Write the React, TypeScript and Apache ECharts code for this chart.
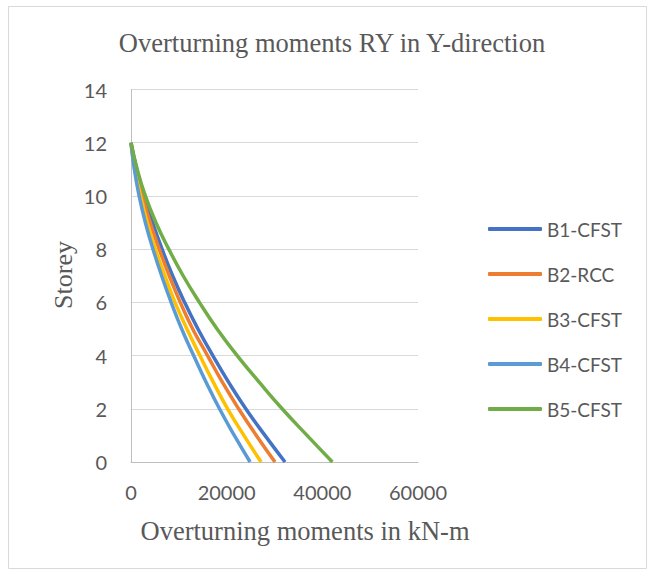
import React, { useEffect, useRef } from "react";
import * as echarts from "echarts";

const storeys = [0, 1, 2, 3, 4, 5, 6, 7, 8, 9, 10, 11, 12];
const seriesNames = ["B1-CFST", "B2-RCC", "B3-CFST", "B4-CFST", "B5-CFST"];
const b1 = [32200, 28000, 24000, 20400, 17100, 14000, 11200, 8700, 6500, 4500, 2700, 1200, 0];
const b2 = [30100, 26200, 22500, 19100, 16000, 12900, 10300, 8000, 5900, 4000, 2400, 1000, 0];
const b3 = [27200, 23600, 20200, 17200, 14400, 11700, 9200, 7100, 5100, 3400, 2000, 800, 0];
const b4 = [24900, 21600, 18500, 15700, 13100, 10600, 8400, 6400, 4600, 3000, 1700, 700, 0];
const b5 = [42100, 36800, 31600, 26800, 22200, 18000, 14300, 10900, 7900, 5200, 3000, 1300, 0];
const xTicks = [0, 20000, 40000, 60000];
const yTicks = [0, 2, 4, 6, 8, 10, 12, 14];
const colors = ["#4472C4", "#ED7D31", "#FFC000", "#5B9BD5", "#70AD47"];

const allValues = [b1, b2, b3, b4, b5];

export default function App() {
  const ref = useRef<HTMLDivElement>(null);
  useEffect(() => {
    if (!ref.current) return;
    const chart = echarts.init(ref.current, undefined, { renderer: "svg" });
    const textColor = "#595959";
    const serif = "'Liberation Serif', 'Times New Roman', serif";
    const sans = "Lato, 'Liberation Sans', sans-serif";
    chart.setOption({
      animation: false,
      backgroundColor: "#ffffff",
      grid: { left: 131, right: 236, top: 89.5, bottom: 114, containLabel: false },
      xAxis: {
        type: "value",
        min: xTicks[0],
        max: xTicks[xTicks.length - 1],
        interval: xTicks[1] - xTicks[0],
        axisLine: { show: true, lineStyle: { color: "#BFBFBF", width: 1 } },
        axisTick: { show: false },
        splitLine: { show: false },
        axisLabel: {
          color: textColor,
          fontFamily: sans,
          fontSize: 20,
          margin: 20,
          formatter: (v: number) => String(v),
        },
      },
      yAxis: {
        type: "value",
        min: yTicks[0],
        max: yTicks[yTicks.length - 1],
        interval: yTicks[1] - yTicks[0],
        axisLine: { show: true, lineStyle: { color: "#BFBFBF", width: 1 } },
        axisTick: { show: false },
        splitLine: { show: true, lineStyle: { color: "#D9D9D9", width: 1 } },
        axisLabel: { color: textColor, fontFamily: sans, fontSize: 20, margin: 24 },
      },
      legend: {
        orient: "vertical",
        left: 488,
        top: 219,
        padding: 0,
        icon: "roundRect",
        itemWidth: 54,
        itemHeight: 4,
        itemGap: 25,
        textStyle: { color: textColor, fontFamily: sans, fontSize: 19, lineHeight: 20 },
        data: seriesNames,
      },
      graphic: [
        {
          type: "rect",
          shape: { x: 8.5, y: 6.5, width: 638, height: 562 },
          style: { fill: "none", stroke: "#D9D9D9", lineWidth: 1 },
          silent: true,
        },
        {
          type: "text",
          x: 332,
          y: 43,
          style: {
            text: "Overturning moments RY in Y-direction",
            fill: textColor,
            font: `26.5px ${serif}`,
            textAlign: "center",
            textVerticalAlign: "middle",
          },
        },
        {
          type: "text",
          x: 305,
          y: 531,
          style: {
            text: "Overturning moments in kN-m",
            fill: textColor,
            font: `26.5px ${serif}`,
            textAlign: "center",
            textVerticalAlign: "middle",
          },
        },
        {
          type: "text",
          x: 63,
          y: 275,
          rotation: Math.PI / 2,
          style: {
            text: "Storey",
            fill: textColor,
            font: `26px ${serif}`,
            textAlign: "center",
            textVerticalAlign: "middle",
          },
        },
      ],
      series: seriesNames.map((name, i) => ({
        name,
        type: "line",
        smooth: true,
        symbol: "none",
        color: colors[i],
        lineStyle: { color: colors[i], width: 3.5 },
        data: allValues[i].map((v, j) => [v, storeys[j]]),
      })),
    });
    return () => chart.dispose();
  }, []);
  return (
    <div
      ref={ref}
      style={{ position: "fixed", left: 0, top: 0, width: 654, height: 576 }}
    />
  );
}
